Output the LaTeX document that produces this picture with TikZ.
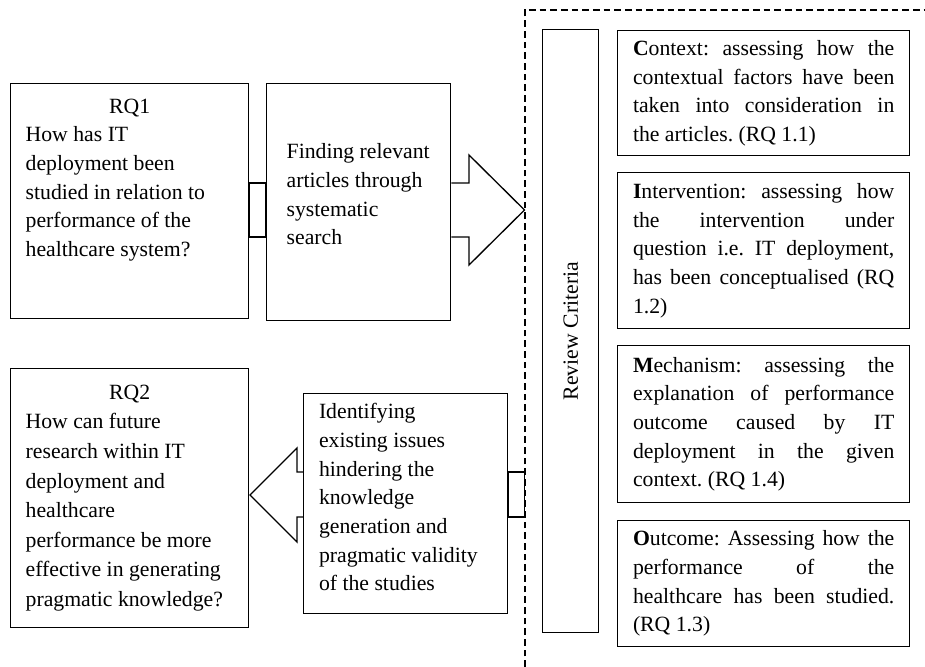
\documentclass[tikz,border=0pt]{standalone}
\usepackage{fontspec}
\setmainfont{Liberation Serif}
\hyphenpenalty=10000
\exhyphenpenalty=10000
\frenchspacing

\tikzset{
  box/.style={draw, line width=1pt, anchor=north west, inner sep=0pt,
    font=\fontsize{16.3}{21.5}\selectfont},
  crit/.style={box, minimum width=219pt, text width=196pt, align=justify},
  line/.style={line width=1pt},
  fence/.style={line width=1.5pt, dash pattern=on 5pt off 3pt}
}

\begin{document}
\begin{tikzpicture}[x=0.75pt, y=-0.75pt]
        % Page size
        \useasboundingbox (0,0) rectangle (925,667);

        % Research questions on the left
        \node[box, minimum width=178.5pt, minimum height=176.25pt] (rqone) at (10,83)
          {\parbox[c][153.75pt][t]{156pt}{\centering RQ1\par\raggedright How has IT\\deployment been\\studied in relation to\\performance of the\\healthcare system?}};
        \node[box, minimum width=178.5pt, minimum height=194.25pt] (rqtwo) at (10,368)
          {\parbox[c][170pt][t]{156pt}{\fontsize{16.3}{22.2}\selectfont\centering RQ2\par\raggedright How can future\\research within IT\\deployment and\\healthcare\\performance be more\\effective in generating\\pragmatic knowledge?}};

        % Steps in the middle
        \node[box, minimum width=138pt, minimum height=177.75pt] (search) at (266,83)
          {\parbox[c][87.75pt][t]{108pt}{\raggedright Finding relevant\\articles through\\systematic\\search}};
        \node[box, minimum width=153pt, minimum height=165pt] (issues) at (303,393)
          {\parbox[c][150pt][t]{130pt}{\raggedright Identifying\\existing issues\\hindering the\\knowledge\\generation and\\pragmatic validity\\of the studies}};

        % Review criteria on the right
        \node[box, minimum width=42pt, minimum height=452.25pt] (review) at (542,29) {\rotatebox{90}{Review Criteria}};
        \node[crit, minimum height=93.75pt] (context) at (617,30)
          {\textbf{C}ontext: assessing how the\linebreak contextual factors have been\linebreak taken into consideration in\linebreak the articles. (RQ 1.1)};
        \node[crit, minimum height=117pt] (interv) at (617,172)
          {\textbf{I}ntervention: assessing how\linebreak the intervention under\linebreak question i.e. IT deployment,\linebreak has been conceptualised (RQ\linebreak 1.2)};
        \node[crit, minimum height=117.75pt] (mech) at (617,345)
          {\textbf{M}echanism: assessing the\linebreak explanation of performance\linebreak outcome caused by IT\linebreak deployment in the given\linebreak context. (RQ 1.4)};
        \node[crit, minimum height=94.5pt] (outcome) at (617,520)
          {\textbf{O}utcome: Assessing how the\linebreak performance of the\linebreak healthcare has been studied.\linebreak (RQ 1.3)};

        % Dashed border
        \coordinate (corner) at (524.5,10);
        \draw[fence] (524.5,667) -- (corner) -- (925,10);

        % Block arrows
        \coordinate (tipone) at (corner |- 0,210);
        \coordinate (tiptwo) at (250,495);
        \draw[line] (rqone.east |- 0,183) rectangle (search.west |- 0,237);
        \draw[line] (search.east |- 0,183) -- (469,183) -- (469,155) -- (tipone)
          -- (469,265) -- (469,237) -- (search.east |- 0,237);
        \draw[line] (issues.east |- 0,472) rectangle (corner |- 0,517);
        \draw[line] (issues.west |- 0,472) -- (297,472) -- (297,448) -- (tiptwo)
          -- (297,542) -- (297,517) -- (issues.west |- 0,517);
    \end{tikzpicture}
\end{document}
